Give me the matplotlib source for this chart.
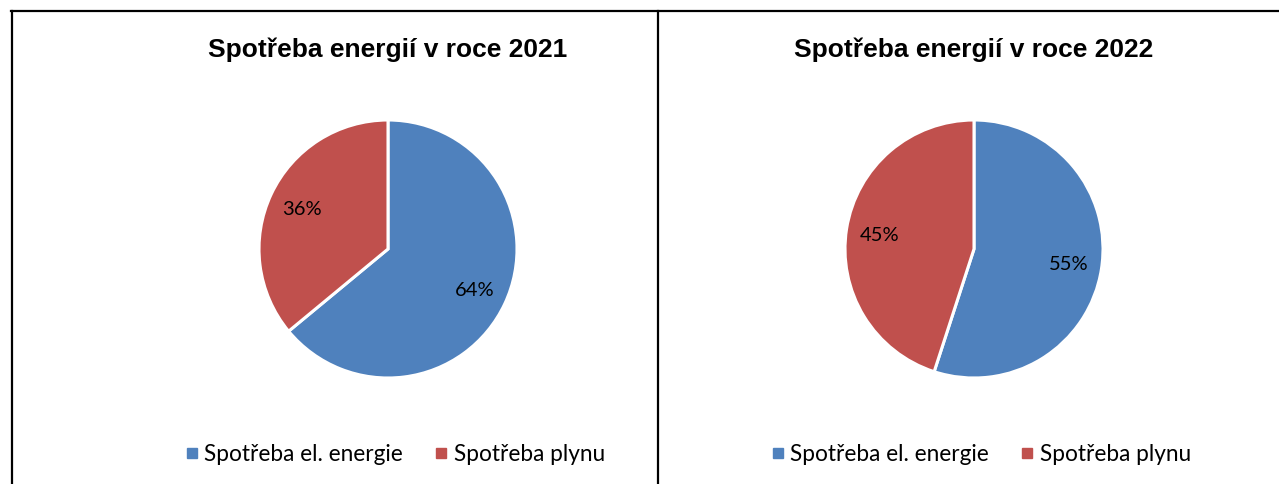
import matplotlib.pyplot as plt
from matplotlib.lines import Line2D

years = ['2021', '2022']
categories = ['Spotřeba el. energie', 'Spotřeba plynu']
shares = {'2021': [64, 36], '2022': [55, 45]}
colors = ['#4F81BD', '#C0504D']

W, H = 1279, 485
fig = plt.figure(figsize=(W / 100, H / 100), dpi=100)
fig.patch.set_facecolor('white')

# pie centres in pixels (x, y from top), radius in pixels
centres = [(388, 250), (974, 250)]
R = 129

for year, (cx, cy) in zip(years, centres):
    ax = fig.add_axes([(cx - R) / W, (H - cy - R) / H, 2 * R / W, 2 * R / H])
    ax.pie(shares[year], colors=colors, startangle=90, counterclock=False,
           autopct='%d%%', pctdistance=0.74, radius=1,
           wedgeprops=dict(edgecolor='white', linewidth=2.2),
           textprops=dict(fontsize=14.5, family='Lato', color='black'))
    ax.set_xlim(-1, 1)
    ax.set_ylim(-1, 1)
    ax.axis('off')

    fig.text(cx / W, 1 - 50 / H, 'Spotřeba energií v roce ' + year,
             ha='center', va='center', fontsize=19, fontweight='bold',
             family='Liberation Sans')

    handles = [Line2D([], [], marker='s', linestyle='none', color=c,
                      markersize=7) for c in colors]
    fig.legend(handles, categories, loc='center',
               bbox_to_anchor=((cx + 7) / W, 1 - 455 / H), ncol=2,
               frameon=False, prop=dict(family='Lato', size=16.3),
               handletextpad=0.25, columnspacing=1.4, handlelength=0.6)

# chart borders
lw = 1.6
fig.add_artist(Line2D([11 / W, 1], [1 - 12 / H, 1 - 12 / H], color='black', lw=lw))
fig.add_artist(Line2D([12 / W, 12 / W], [0, 1 - 12 / H], color='black', lw=lw))
fig.add_artist(Line2D([658 / W, 658 / W], [0, 1 - 12 / H], color='black', lw=lw))

fig.savefig('out.png', dpi=100)
